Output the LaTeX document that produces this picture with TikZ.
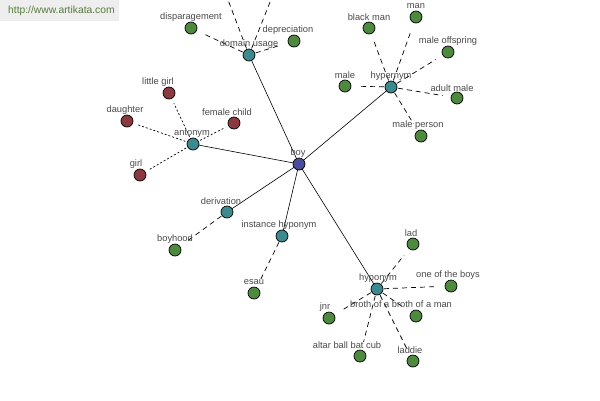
\documentclass[tikz,border=0pt]{standalone}
\usepackage{fontspec}
\setmainfont{Liberation Sans}
\begin{document}
\begin{tikzpicture}[x=1pt,y=-1pt,
  base/.style={circle,draw=black,line width=0.7pt,minimum size=12pt,inner sep=0pt},
  leafg/.style={base,fill=leafgreen},
  leafr/.style={base,fill=leafred},
  hub/.style={base,fill=hubteal},
  root/.style={base,fill=rootblue},
  lbl/.style={font=\fontsize{9.3}{11}\selectfont,text=labelgrey,inner sep=0pt},
  main/.style={draw=black,line width=0.6pt},
  dsh/.style={draw=black,line width=0.7pt,dash pattern=on 5pt off 4pt,shorten <=7pt,shorten >=8pt},
  dtt/.style={draw=black,line width=0.7pt,dash pattern=on 2pt off 2pt,shorten <=4pt,shorten >=5pt}]
\definecolor{leafgreen}{HTML}{4E8A3E}
\definecolor{leafred}{HTML}{8A3A3E}
\definecolor{hubteal}{HTML}{3C8A90}
\definecolor{rootblue}{HTML}{4A4C9C}
\definecolor{labelgrey}{HTML}{4A4A4A}
\definecolor{headbg}{HTML}{EEEEEE}
\definecolor{headtext}{HTML}{577A3C}
\useasboundingbox (0,0) rectangle (600,400);
\clip (0,0) rectangle (600,400);
\fill[white] (0,0) rectangle (600,400);
\node[fill=headbg,anchor=north west,minimum width=119pt,minimum height=21pt,inner sep=0pt] (hdr) at (0,0) {};
\node[anchor=west,text=headtext,font=\fontsize{10.3}{12}\selectfont,inner sep=0pt] (url) at (8,11) {http://www.artikata.com};

% coordinates of nodes
\coordinate (cboy) at (299,164);
\coordinate (cdom) at (249,55);
\coordinate (chyper) at (391,87);
\coordinate (cant) at (193,144);
\coordinate (cder) at (227,212);
\coordinate (cinst) at (282,236);
\coordinate (chypo) at (377,289);
\coordinate (up1) at (225,-8);
\coordinate (up2) at (274,-8);

% main edges
\draw[main] (cboy) -- (cdom);
\draw[main] (cboy) -- (chyper);
\draw[main] (cboy) -- (cant);
\draw[main] (cboy) -- (cder);
\draw[main] (cboy) -- (cinst);
\draw[main] (cboy) -- (chypo);

% leaves
\node[leafg] (disp) at (191,28) {};
\node[leafg] (depr) at (294,41) {};
\node[leafg] (blackman) at (369,28) {};
\node[leafg] (man) at (416,17) {};
\node[leafg] (maleoff) at (448,52) {};
\node[leafg] (male) at (345,86) {};
\node[leafg] (adultmale) at (457,98) {};
\node[leafg] (maleperson) at (421,136) {};
\node[leafr] (littlegirl) at (169,93) {};
\node[leafr] (daughter) at (127,121) {};
\node[leafr] (femchild) at (234,123) {};
\node[leafr] (girl) at (140,175) {};
\node[leafg] (boyhood) at (175,250) {};
\node[leafg] (esau) at (254,293) {};
\node[leafg] (lad) at (413,244) {};
\node[leafg] (oneboys) at (451,286) {};
\node[leafg] (jnr) at (329,318) {};
\node[leafg] (broth) at (416,316) {};
\node[leafg] (altar) at (360,356) {};
\node[leafg] (laddie) at (413,361) {};

% dashed edges
\draw[dsh] (cdom) -- (disp);
\draw[dsh] (cdom) -- (depr);
\draw[dsh,shorten >=0pt] (cdom) -- (up1);
\draw[dsh,shorten >=0pt] (cdom) -- (up2);
\draw[dsh] (chyper) -- (blackman);
\draw[dsh] (chyper) -- (man);
\draw[dsh] (chyper) -- (maleoff);
\draw[dsh] (chyper) -- (male);
\draw[dsh] (chyper) -- (adultmale);
\draw[dsh] (chyper) -- (maleperson);
\draw[dtt] (cant) -- (littlegirl);
\draw[dtt] (cant) -- (daughter);
\draw[dtt] (cant) -- (femchild);
\draw[dtt] (cant) -- (girl);
\draw[dsh] (cder) -- (boyhood);
\draw[dsh] (cinst) -- (esau);
\draw[dsh] (chypo) -- (lad);
\draw[dsh] (chypo) -- (oneboys);
\draw[dsh] (chypo) -- (jnr);
\draw[dsh] (chypo) -- (broth);
\draw[dsh] (chypo) -- (altar);
\draw[dsh] (chypo) -- (laddie);

% hub nodes
\node[root] (boy) at (cboy) {};
\node[hub] (dom) at (cdom) {};
\node[hub] (hyper) at (chyper) {};
\node[hub] (ant) at (cant) {};
\node[hub] (der) at (cder) {};
\node[hub] (inst) at (cinst) {};
\node[hub] (hypo) at (chypo) {};

% labels
\node[lbl] (lboy) at (298,153) {boy};
\node[lbl] (ldom) at (249,44) {domain usage};
\node[lbl] (lhyper) at (391,76) {hypernym};
\node[lbl] (lant) at (192,133) {antonym};
\node[lbl] (lder) at (221,201) {derivation};
\node[lbl] (linst) at (279,225) {instance hyponym};
\node[lbl] (lhypo) at (378,278) {hyponym};
\node[lbl] (ldisp) at (191,17) {disparagement};
\node[lbl] (ldepr) at (288,30) {depreciation};
\node[lbl] (lblack) at (369,17) {black man};
\node[lbl] (lman) at (416,6) {man};
\node[lbl] (lmoff) at (448,41) {male offspring};
\node[lbl] (lmale) at (345,75) {male};
\node[lbl] (ladult) at (452,88) {adult male};
\node[lbl] (lmperson) at (418,125) {male person};
\node[lbl] (llgirl) at (158,82) {little girl};
\node[lbl] (ldaught) at (125,110) {daughter};
\node[lbl] (lfchild) at (227,112) {female child};
\node[lbl] (lgirl) at (136,164) {girl};
\node[lbl] (lboyhood) at (175,239) {boyhood};
\node[lbl] (lesau) at (254,282) {esau};
\node[lbl] (llad) at (411,233) {lad};
\node[lbl] (loneb) at (448,275) {one of the boys};
\node[lbl] (ljnr) at (325,307) {jnr};
\node[lbl] (lbroth) at (401,304) {broth of a broth of a man};
\node[lbl] (laltar) at (347,345) {altar ball bat cub};
\node[lbl] (lladdie) at (410,350) {laddie};
\end{tikzpicture}
\end{document}
